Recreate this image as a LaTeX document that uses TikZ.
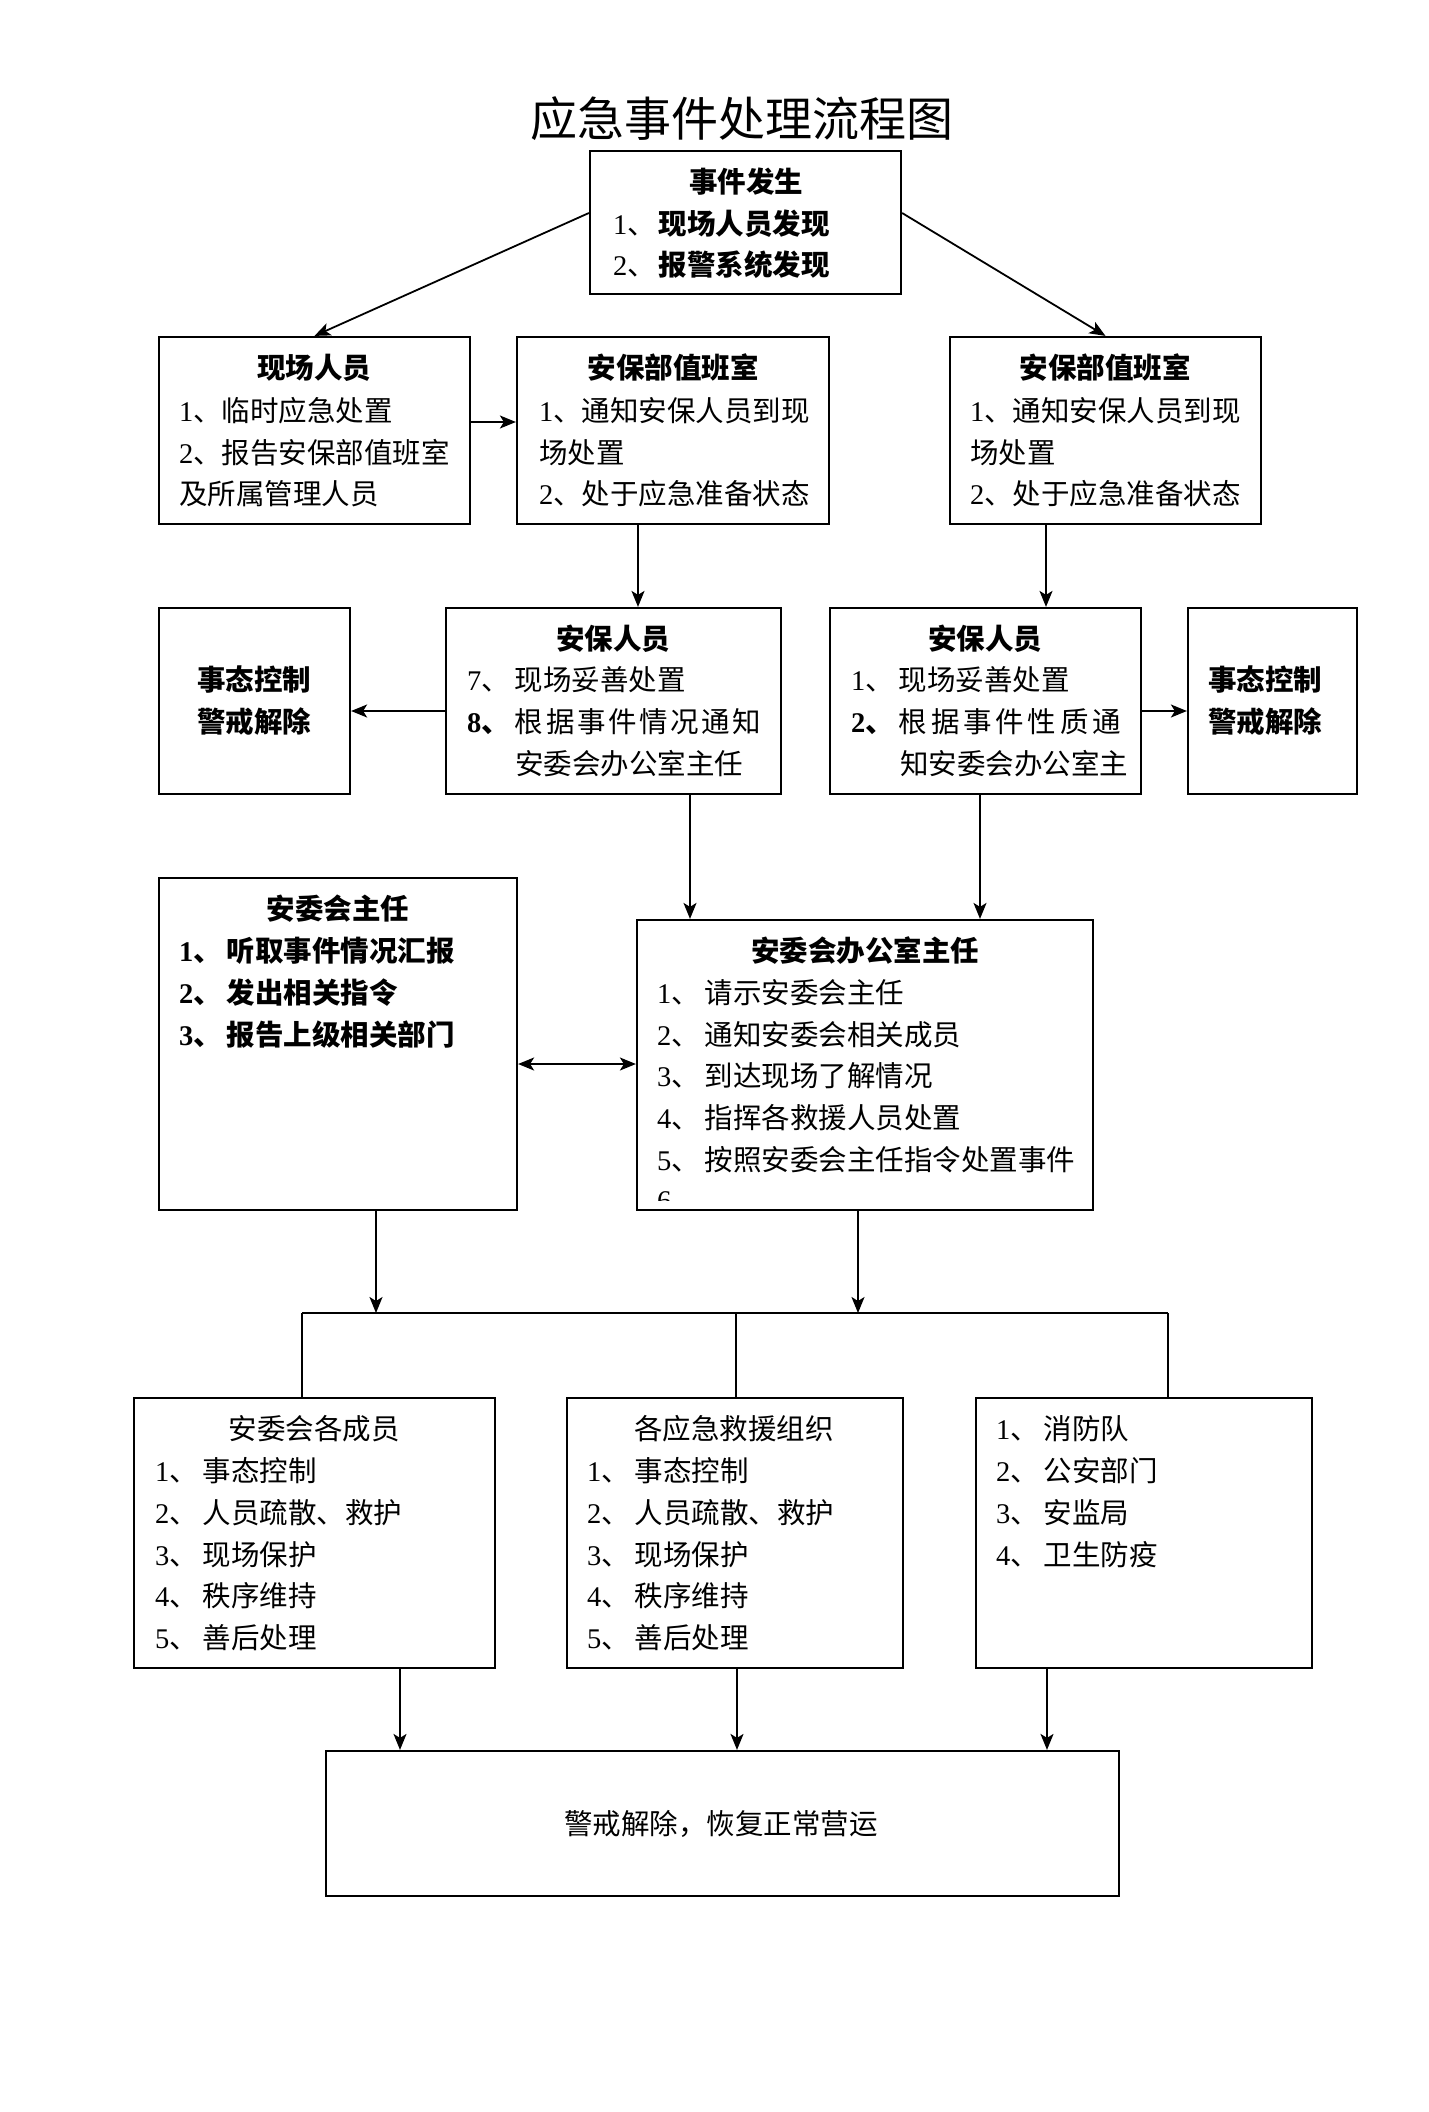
\documentclass[tikz,border=0pt]{standalone}
\usepackage{fontspec}
\setmainfont{Liberation Serif}
\newfontfamily\cjk{Noto Sans CJK SC}
\usetikzlibrary{arrows.meta,calc}
\newcommand\nm[1]{{\rmfamily #1}}
\newcommand\gp{\hspace{5pt}}
\newcommand\bx[5]{\node[box, minimum width={(#4-#2)*1pt}, minimum height={(#5-#3)*1pt}] (#1) at ({(#2+#4)/2},{(#3+#5)/2}) {};}
\tikzset{
 box/.style={draw=black, line width=2.2pt, inner sep=0pt},
 tb/.style={inner sep=0pt, font=\cjk\fontsize{28.5}{34}\selectfont},
 hd/.style={inner sep=0pt, font=\cjk\bfseries\fontsize{28.5}{34}\selectfont},
 tl/.style={tb, anchor=west},
 hl/.style={hd, anchor=west},
 ln/.style={line width=1.8pt, draw=black},
 myarr/.tip={Stealth[length=16pt,width=13pt,inset=4pt]},
 arr/.style={ln, -myarr},
 darr/.style={ln, myarr-myarr},
}
\begin{document}
\begin{tikzpicture}[x=1pt,y=-1pt]
\fill[white] (0,0) rectangle (1428,2112);
\useasboundingbox (0,0) rectangle (1428,2112);

% title
\node[inner sep=0pt, font=\cjk\fontsize{47}{50}\selectfont] (title) at (742,119) {应急事件处理流程图};

% boxes
\bx{B0}{590}{151}{901}{294}
\bx{B1}{159}{337}{470}{524}
\bx{B2}{517}{337}{829}{524}
\bx{B3}{950}{337}{1261}{524}
\bx{C1}{159}{608}{350}{794}
\bx{C2}{446}{608}{781}{794}
\bx{C3}{830}{608}{1141}{794}
\bx{C4}{1188}{608}{1357}{794}
\bx{D1}{159}{878}{517}{1210}
\bx{D2}{637}{920}{1093}{1210}
\bx{E1}{134}{1398}{495}{1668}
\bx{E2}{567}{1398}{903}{1668}
\bx{E3}{976}{1398}{1312}{1668}
\bx{F}{326}{1751}{1119}{1896}

% B0
\node[hd] (b0h) at (746,182) {事件发生};
\node[tl] (b0a) at (613,224) {\nm{1}、\hspace{3pt}{\bfseries 现场人员发现}};
\node[tl] (b0b) at (613,265) {\nm{2}、\hspace{3pt}{\bfseries 报警系统发现}};
% B1
\node[hd] (b1h) at (314,368) {现场人员};
\node[tl] (b1a) at (179,411) {\nm{1}、临时应急处置};
\node[tl] (b1b) at (179,453) {\nm{2}、报告安保部值班室};
\node[tl] (b1c) at (179,494) {及所属管理人员};
% B2
\node[hd] (b2h) at (673,368) {安保部值班室};
\node[tl] (b2a) at (539,411) {\nm{1}、通知安保人员到现};
\node[tl] (b2b) at (539,453) {场处置};
\node[tl] (b2c) at (539,494) {\nm{2}、处于应急准备状态};
% B3
\node[hd] (b3h) at (1105,368) {安保部值班室};
\node[tl] (b3a) at (970,411) {\nm{1}、通知安保人员到现};
\node[tl] (b3b) at (970,453) {场处置};
\node[tl] (b3c) at (970,494) {\nm{2}、处于应急准备状态};
% C1
\node[hd] (c1a) at (254,680) {事态控制};
\node[hd] (c1b) at (254,722) {警戒解除};
% C2
\node[hd] (c2h) at (613,639) {安保人员};
\node[tl] (c2a) at (467,680) {\nm{7}、\gp 现场妥善处置};
\node[tl] (c2b) at (467,722) {{\bfseries\nm{8}、}\gp\makebox[246pt][l]{根\hfill 据\hfill 事\hfill 件\hfill 情\hfill 况\hfill 通\hfill 知}};
\node[tl] (c2c) at (515,764) {安委会办公室主任};
% C3
\node[hd] (c3h) at (985,639) {安保人员};
\node[tl] (c3a) at (851,680) {\nm{1}、\gp 现场妥善处置};
\node[tl] (c3b) at (851,722) {{\bfseries\nm{2}、}\gp\makebox[222pt][l]{根\hfill 据\hfill 事\hfill 件\hfill 性\hfill 质\hfill 通}};
\node[tl] (c3c) at (900,764) {知安委会办公室主};
% C4
\node[hd] (c4a) at (1265,680) {事态控制};
\node[hd] (c4b) at (1265,722) {警戒解除};
% D1
\node[hd] (d1h) at (338,909) {安委会主任};
\node[hl] (d1a) at (179,951) {\nm{1}、\gp 听取事件情况汇报};
\node[hl] (d1b) at (179,993) {\nm{2}、\gp 发出相关指令};
\node[hl] (d1c) at (179,1035) {\nm{3}、\gp 报告上级相关部门};
% D2
\node[hd] (d2h) at (865,951) {安委会办公室主任};
\node[tl] (d2a) at (657,993) {\nm{1}、\gp 请示安委会主任};
\node[tl] (d2b) at (657,1035) {\nm{2}、\gp 通知安委会相关成员};
\node[tl] (d2c) at (657,1076) {\nm{3}、\gp 到达现场了解情况};
\node[tl] (d2d) at (657,1118) {\nm{4}、\gp 指挥各救援人员处置};
\node[tl] (d2e) at (657,1160) {\nm{5}、\gp 按照安委会主任指令处置事件};
\begin{scope}
\clip (645,1180) rectangle (700,1200);
\node[tl] (d2f) at (657,1202) {\nm{6}、};
\end{scope}
% E1
\node[tb] (e1h) at (314,1429) {安委会各成员};
\node[tl] (e1a) at (155,1471) {\nm{1}、\gp 事态控制};
\node[tl] (e1b) at (155,1513) {\nm{2}、\gp 人员疏散、救护};
\node[tl] (e1c) at (155,1555) {\nm{3}、\gp 现场保护};
\node[tl] (e1d) at (155,1596) {\nm{4}、\gp 秩序维持};
\node[tl] (e1e) at (155,1638) {\nm{5}、\gp 善后处理};
% E2
\node[tb] (e2h) at (734,1429) {各应急救援组织};
\node[tl] (e2a) at (587,1471) {\nm{1}、\gp 事态控制};
\node[tl] (e2b) at (587,1513) {\nm{2}、\gp 人员疏散、救护};
\node[tl] (e2c) at (587,1555) {\nm{3}、\gp 现场保护};
\node[tl] (e2d) at (587,1596) {\nm{4}、\gp 秩序维持};
\node[tl] (e2e) at (587,1638) {\nm{5}、\gp 善后处理};
% E3
\node[tl] (e3a) at (996,1429) {\nm{1}、\gp 消防队};
\node[tl] (e3b) at (996,1471) {\nm{2}、\gp 公安部门};
\node[tl] (e3c) at (996,1513) {\nm{3}、\gp 安监局};
\node[tl] (e3d) at (996,1555) {\nm{4}、\gp 卫生防疫};
% F
\node[tb] (ft) at (721,1824) {警戒解除，恢复正常营运};

% connectors
\draw[arr] ([yshift=9.5pt]B0.west) -- (B1.north);
\draw[arr] ([yshift=9.5pt]B0.east) -- (B3.north);
\draw[arr] ([yshift=8.5pt]B1.east) -- ([yshift=8.5pt]B2.west);
\coordinate (k1) at (638,0);
\coordinate (k2) at (1046,0);
\draw[arr] (B2.south -| k1) -- (C2.north -| k1);
\draw[arr] (B3.south -| k2) -- (C3.north -| k2);
\coordinate (k3) at (0,711);
\draw[arr] (C2.west |- k3) -- (C1.east |- k3);
\draw[arr] (C3.east |- k3) -- (C4.west |- k3);
\coordinate (k4) at (690,0);
\coordinate (k5) at (980,0);
\draw[arr] (C2.south -| k4) -- (D2.north -| k4);
\draw[arr] (C3.south -| k5) -- (D2.north -| k5);
\coordinate (k6) at (0,1064);
\draw[darr] (D1.east |- k6) -- (D2.west |- k6);
\coordinate (busL) at (302,1313);
\coordinate (busM) at (736,1313);
\coordinate (busR) at (1168,1313);
\coordinate (busA) at (376,1313);
\coordinate (busB) at (858,1313);
\draw[ln] (busL) -- (busR);
\draw[arr] (D1.south -| busA) -- (busA);
\draw[arr] (D2.south -| busB) -- (busB);
\draw[ln] (busL) -- (E1.north -| busL);
\draw[ln] (busM) -- (E2.north -| busM);
\draw[ln] (busR) -- (E3.north -| busR);
\coordinate (k7) at (400,0);
\coordinate (k8) at (737,0);
\coordinate (k9) at (1047,0);
\draw[arr] (E1.south -| k7) -- (F.north -| k7);
\draw[arr] (E2.south -| k8) -- (F.north -| k8);
\draw[arr] (E3.south -| k9) -- (F.north -| k9);
\end{tikzpicture}
\end{document}
